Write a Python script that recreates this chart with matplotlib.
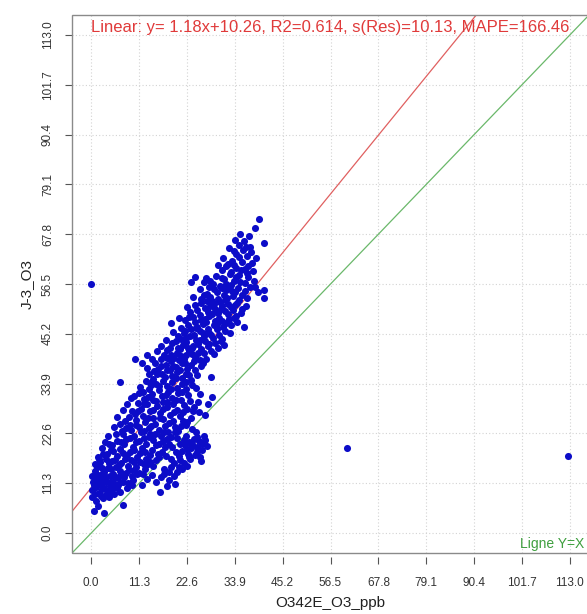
import matplotlib
matplotlib.use("Agg")
import matplotlib.pyplot as plt
from matplotlib.patches import Rectangle

plt.rcParams['font.family'] = ['Liberation Sans', 'DejaVu Sans']

# axis ticks (same for x and y)
ticks = [0.0, 11.3, 22.6, 33.9, 45.2, 56.5, 67.8, 79.1, 90.4, 101.7, 113.0]
tick_labels = ["0.0", "11.3", "22.6", "33.9", "45.2", "56.5", "67.8", "79.1", "90.4", "101.7", "113.0"]
lims = [-4.52, 117.52]

# linear fit shown on the chart
slope = 1.18
intercept = 10.26
fit_text = "Linear: y= 1.18x+10.26, R2=0.614, s(Res)=10.13, MAPE=166.46"

# (O342E_O3_ppb, J-3_O3) pairs
cloud_upper = [
    (39.6, 71.3), (38.7, 69.2), (40.7, 65.9), (37.2, 67.5), (36.0, 66.2), (34.8, 65.4), (35.9, 64.3),
    (37.4, 64.8), (33.6, 63.9), (34.9, 62.6), (36.8, 62.9), (35.7, 61.5), (33.2, 61.8), (37.9, 61.2),
    (31.9, 60.6), (34.1, 60.2), (36.3, 60.0), (38.2, 59.4), (30.8, 59.6), (32.7, 58.8), (35.0, 58.5),
    (37.0, 58.1), (29.5, 58.3), (31.4, 57.6), (33.8, 57.2), (36.2, 56.8), (27.0, 57.9), (24.6, 58.2),
    (23.5, 57.0), (26.6, 56.9), (28.8, 56.5), (30.5, 56.0), (32.6, 55.7), (34.7, 55.5), (37.5, 55.9),
    (40.8, 55.2), (40.8, 53.4), (39.5, 54.6), (29.6, 54.8), (31.3, 54.1), (33.5, 53.8), (35.6, 53.9),
    (27.4, 54.3), (25.9, 53.2), (28.5, 52.7), (30.4, 52.4), (32.4, 52.0), (34.4, 52.3), (36.6, 51.6),
    (33.0, 59.3), (35.4, 59.7), (37.1, 60.6), (32.2, 61.1), (34.3, 63.4), (36.5, 65.0), (31.0, 57.9),
    (33.0, 56.3), (35.2, 57.0), (29.0, 55.3), (31.8, 55.2), (34.0, 54.7), (36.2, 54.9), (28.0, 53.5),
    (30.0, 53.2), (32.0, 53.4), (34.8, 52.9), (26.0, 52.3), (28.0, 51.6), (30.8, 51.5), (33.0, 51.2),
    (35.1, 67.9), (33.9, 66.4), (37.8, 63.7), (32.5, 64.6), (38.9, 62.4), (31.2, 62.3), (33.7, 60.9),
    (36.9, 59.1), (29.9, 60.8), (38.4, 57.3), (34.3, 58.1), (31.9, 56.5), (28.1, 57.2), (25.6, 55.4),
    (27.7, 55.9), (30.9, 55.7), (36.8, 53.3), (38.6, 55.8), (33.2, 54.9), (26.7, 53.9), (29.1, 51.9),
    (31.7, 52.8), (35.7, 50.8), (24.1, 53.6), (27.3, 52.6), (33.9, 51.7), (30.6, 50.9),
]
cloud_middle = [
    (24.6, 51.8), (26.8, 51.0), (29.3, 50.8), (31.5, 50.3), (33.4, 50.6), (35.3, 49.9), (23.4, 50.1),
    (25.6, 49.5), (27.9, 49.2), (30.2, 48.8), (32.5, 48.6), (34.5, 47.9), (22.1, 48.4), (24.4, 47.8),
    (26.5, 47.5), (28.9, 47.1), (31.2, 46.8), (36.0, 46.8), (18.8, 47.7), (21.3, 46.6), (23.6, 46.2),
    (25.7, 45.8), (27.8, 45.4), (30.1, 45.0), (32.8, 45.3), (20.4, 44.8), (22.5, 44.2), (24.8, 43.9),
    (26.9, 43.6), (29.2, 43.1), (31.4, 42.7), (19.0, 43.2), (21.6, 42.6), (23.7, 42.0), (25.9, 41.7),
    (28.3, 41.3), (15.6, 41.2), (17.8, 41.5), (20.2, 40.9), (22.3, 40.4), (24.6, 40.0), (27.1, 39.6),
    (13.2, 40.3), (10.3, 39.4), (16.6, 39.5), (18.9, 39.0), (21.4, 38.6), (23.5, 38.2), (26.0, 37.8),
    (13.2, 37.5), (13.6, 36.0), (15.8, 37.3), (17.9, 36.9), (20.2, 36.5), (22.4, 36.2), (24.9, 35.8),
    (28.4, 35.3), (14.6, 35.0), (16.9, 34.6), (19.1, 34.2), (21.5, 33.9), (23.8, 33.5), (6.8, 34.2),
    (25.0, 50.5), (27.5, 50.2), (30.0, 49.9), (32.3, 49.6), (24.0, 49.0), (26.8, 48.6), (29.3, 48.2),
    (31.8, 47.7), (33.6, 48.9), (22.8, 47.2), (25.0, 46.8), (27.5, 46.4), (29.8, 46.2), (21.8, 45.3),
    (24.2, 45.0), (26.6, 44.6), (28.8, 44.3), (31.0, 44.0), (20.0, 43.6), (22.4, 43.3), (25.3, 42.9),
    (27.6, 42.5), (30.0, 41.9), (18.5, 42.0), (21.0, 41.7), (23.2, 41.2), (25.3, 40.8), (17.3, 40.3),
    (19.6, 39.8), (21.9, 39.5), (24.2, 39.1), (26.3, 38.5), (15.0, 38.6), (17.6, 38.2), (20.0, 37.7),
    (22.7, 37.3), (14.8, 36.8), (16.8, 36.0), (19.0, 35.6), (21.4, 35.2), (23.6, 34.8), (12.9, 34.4),
    (15.4, 33.8), (17.8, 33.4), (20.2, 33.0), (22.5, 32.6),
    (28.6, 49.6), (22.6, 51.2), (34.1, 49.2), (25.9, 48.4), (31.0, 48.2), (23.1, 49.1), (20.7, 48.9),
    (27.2, 47.9), (33.1, 47.1), (29.6, 47.4), (24.8, 46.6), (22.2, 45.9), (26.3, 45.3), (31.7, 45.9),
    (19.3, 45.7), (28.4, 44.9), (23.4, 44.6), (30.6, 43.5), (21.1, 44.0), (25.6, 43.9), (27.9, 43.0),
    (17.6, 43.9), (24.1, 42.4), (20.6, 42.1), (29.1, 40.6), (22.8, 41.9), (16.4, 42.4), (26.6, 40.9),
    (18.8, 40.5), (21.2, 40.1), (23.9, 40.6), (14.3, 39.4), (17.9, 39.7), (20.7, 39.2), (25.7, 39.3),
    (12.0, 38.5), (19.2, 38.0), (22.2, 38.7), (16.5, 37.8), (24.4, 37.1), (18.6, 36.9), (21.0, 36.9),
    (15.5, 36.1), (23.2, 35.9), (17.4, 35.4), (20.1, 35.1), (13.9, 34.0), (22.5, 34.3),
]
cloud_lower = [
    (11.5, 33.2), (13.6, 32.8), (15.9, 32.4), (18.2, 32.1), (20.6, 31.7), (22.9, 31.3), (25.6, 31.6),
    (28.6, 30.8), (10.2, 31.0), (12.4, 30.5), (14.7, 30.2), (17.0, 29.8), (19.4, 29.4), (21.8, 29.0),
    (24.3, 28.6), (8.4, 29.3), (9.6, 27.6), (11.8, 28.1), (13.9, 27.7), (16.2, 27.3), (18.6, 26.9),
    (20.9, 26.5), (23.5, 26.2), (26.8, 26.8), (6.2, 26.4), (8.0, 25.5), (10.5, 25.7), (12.8, 25.2),
    (15.1, 24.8), (17.4, 24.4), (19.8, 24.0), (22.4, 24.6), (5.3, 24.0), (7.2, 23.2), (9.4, 23.5),
    (11.7, 22.9), (14.0, 22.5), (16.4, 22.1), (18.9, 21.8), (4.0, 22.0), (3.3, 20.6), (6.0, 21.0),
    (8.3, 21.3), (10.6, 20.7), (12.9, 20.3), (15.2, 19.9), (17.5, 19.6), (2.5, 19.2), (4.6, 18.8),
    (6.9, 19.0), (9.2, 18.5), (11.5, 18.1), (13.8, 17.7), (16.1, 17.3), (18.4, 20.1), (1.6, 17.3),
    (3.5, 16.9), (5.7, 16.5), (7.9, 16.9), (10.2, 16.1), (12.4, 15.7), (14.7, 15.3), (13.3, 15.6),
    (0.8, 15.6), (2.6, 14.8), (4.6, 14.5), (6.8, 14.1), (9.0, 14.4), (11.2, 13.7), (1.5, 13.2),
    (3.6, 12.8), (5.6, 12.4), (7.7, 12.7), (9.8, 12.0), (16.3, 9.3), (18.0, 10.7), (0.4, 11.6),
    (2.3, 11.1), (4.4, 10.6), (6.4, 10.9), (8.4, 10.3), (0.3, 9.8), (1.9, 9.2), (3.7, 9.5),
    (5.5, 8.8), (0.3, 8.2), (1.2, 7.3), (2.9, 7.9), (7.4, 6.4), (0.7, 5.0), (3.1, 4.5),
    (12.2, 32.0), (14.4, 31.5), (16.8, 31.0), (19.0, 30.7), (21.2, 30.3), (11.0, 29.6), (13.2, 29.3),
    (15.6, 28.9), (18.0, 28.5), (20.2, 28.0), (10.4, 27.0), (12.3, 26.6), (14.6, 26.2), (17.0, 25.8),
    (19.4, 25.4), (9.1, 24.6), (11.4, 24.1), (13.6, 23.8), (16.0, 23.4), (18.2, 23.0), (7.6, 22.4),
    (10.0, 22.0), (12.4, 21.6), (14.6, 21.2), (16.9, 20.9), (5.0, 20.0), (7.8, 20.2), (9.9, 19.6),
    (12.0, 19.2), (14.4, 18.8), (16.8, 18.5), (3.8, 18.0), (6.0, 17.6), (8.5, 17.7), (10.9, 17.2),
    (13.0, 16.8), (15.2, 16.5), (2.2, 16.1), (4.2, 15.8), (6.5, 15.4), (8.6, 15.2), (10.6, 14.9),
    (12.6, 14.6), (0.9, 14.2), (3.0, 13.9), (5.2, 13.5), (7.4, 13.2), (9.6, 13.0), (2.4, 12.2),
    (4.6, 11.7), (6.7, 11.5), (8.8, 11.3), (1.1, 10.5), (3.0, 10.2), (5.0, 9.9), (6.8, 9.4),
    (2.3, 8.5), (4.2, 8.1), (1.5, 6.2),
    (16.1, 33.3), (18.9, 32.8), (24.8, 33.0), (14.1, 33.5), (21.5, 32.0), (11.4, 31.8), (17.6, 31.4),
    (13.5, 30.8), (20.1, 30.2), (15.3, 30.0), (23.4, 30.0), (9.4, 30.6), (18.0, 29.7), (12.5, 29.2),
    (22.6, 28.2), (16.9, 28.2), (7.5, 27.9), (14.5, 27.9), (19.6, 27.4), (11.0, 27.6), (25.4, 27.4),
    (13.4, 26.0), (16.3, 26.0), (8.9, 26.4), (21.6, 25.4), (18.4, 25.0), (6.9, 24.7), (10.7, 24.6),
    (14.2, 24.3), (20.5, 23.1), (12.5, 23.1), (8.3, 23.9), (17.2, 23.0), (15.0, 22.5), (5.9, 22.4),
    (9.1, 21.6), (11.3, 21.0), (13.7, 21.7), (17.8, 21.4), (4.2, 20.3), (7.1, 20.6), (15.9, 20.3),
    (10.0, 18.9), (12.8, 18.3), (2.9, 18.0), (5.2, 18.6), (7.6, 18.2), (15.7, 17.9), (1.9, 16.7),
    (4.8, 16.3), (9.3, 16.6), (11.6, 16.1), (14.0, 16.2), (7.0, 15.9), (1.3, 14.9), (3.9, 14.7),
    (5.9, 14.9), (10.0, 14.3), (8.2, 13.6), (12.2, 13.4), (0.2, 13.0), (2.5, 13.4), (4.4, 13.0),
    (6.3, 12.8), (1.7, 11.9), (3.4, 11.7), (5.5, 11.1), (7.6, 11.6), (9.6, 11.0), (0.6, 10.9),
    (2.6, 9.9), (4.2, 9.2), (0.9, 8.8), (3.1, 8.5), (1.0, 12.4), (6.1, 10.2),
]
# group sitting under the fit line
cluster_low = [
    (26.7, 22.0), (26.9, 21.1), (25.5, 20.8), (24.2, 21.4), (23.0, 20.6), (22.1, 19.9), (23.6, 19.2),
    (25.0, 19.6), (26.2, 18.9), (21.5, 18.6), (20.0, 18.3), (22.8, 18.0), (24.4, 17.8), (21.9, 16.0),
    (19.6, 16.0), (20.8, 15.1), (21.5, 14.5), (18.4, 13.8), (19.5, 12.9), (18.4, 12.0), (23.3, 16.7),
    (25.6, 17.2), (27.3, 19.8), (22.3, 22.1), (20.9, 20.2), (24.8, 22.9), (26.0, 16.3), (17.3, 14.6),
    (16.6, 12.7), (19.9, 11.2), (15.4, 11.6), (14.3, 13.1), (13.1, 12.3), (12.0, 11.0), (10.8, 13.5),
    (17.7, 17.4), (19.0, 19.6), (20.3, 21.6), (23.9, 23.6), (21.1, 24.3), (22.7, 25.2), (19.8, 23.0),
    (24.0, 27.8), (25.2, 29.7), (27.6, 29.2), (21.7, 27.4),
    (24.9, 21.7), (21.8, 21.1), (23.8, 20.2), (26.1, 20.1), (22.6, 19.0), (25.1, 18.3), (20.7, 17.4),
    (23.1, 17.3), (18.9, 16.7), (21.0, 16.5), (20.2, 13.9), (22.6, 15.3), (18.9, 14.9), (17.1, 13.3),
]
outliers = [(0.0, 56.5), (60.4, 19.2), (112.5, 17.4)]

points = cloud_upper + cloud_middle + cloud_lower + cluster_low + outliers
obs_x = [p[0] for p in points]
obs_y = [p[1] for p in points]

fig = plt.figure(figsize=(5.87, 6.14), dpi=100)
ax = fig.add_axes([0.1227, 0.0993, 0.8807, 0.8762])
ax.set_xlim(lims)
ax.set_ylim(lims)

# dotted grid at each tick
for t in ticks:
    ax.axvline(t, color='#d3d3d3', linestyle=(0, (1, 2)), linewidth=0.8, zorder=0)
    ax.axhline(t, color='#d3d3d3', linestyle=(0, (1, 2)), linewidth=0.8, zorder=0)

ax.scatter(obs_x, obs_y, s=26, color='#0c0cc8', linewidths=0, zorder=3)

ax.plot(lims, [intercept + slope * v for v in lims], color='#e06060', linewidth=0.9, zorder=2)
ax.plot(lims, lims, color='#6ab86a', linewidth=0.9, zorder=2)

ax.text(0.0, 114.7, fit_text, color='#e03a3a', fontsize=12, ha='left', va='center', clip_on=False)
ax.text(116.3, -2.5, "Ligne Y=X", color='#3f9f3f', fontsize=10, ha='right', va='center')

# R style axes: box around the plot, ticks below with a small gap
for s in ax.spines.values():
    s.set_visible(False)
ax.add_patch(Rectangle((0, 0), 1, 1, transform=ax.transAxes, fill=False,
                       edgecolor='#8a8a8a', linewidth=1.0, zorder=4, clip_on=False))
ax.spines['bottom'].set_position(('outward', 3))

ax.set_xticks(ticks)
ax.set_xticklabels(tick_labels)
ax.set_yticks(ticks)
ax.set_yticklabels(tick_labels, rotation=90, va='center')
ax.tick_params(axis='x', length=5, width=0.8, color='#555555', labelsize=8.5, labelcolor='#333333', pad=9)
ax.tick_params(axis='y', length=5, width=0.8, color='#555555', labelsize=8.5, labelcolor='#333333', pad=8)

ax.set_xlabel("O342E_O3_ppb", fontsize=11, color='#222222', labelpad=5)
ax.set_ylabel("J-3_O3", fontsize=11, color='#222222', labelpad=6)

fig.savefig('out.png', dpi=100)
